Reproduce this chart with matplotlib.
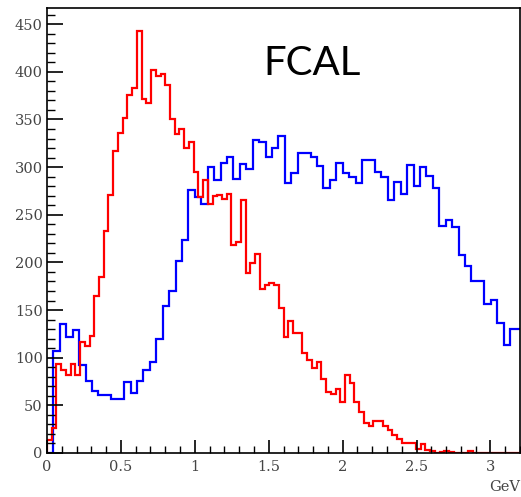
import numpy as np
import matplotlib.pyplot as plt
from matplotlib.ticker import MultipleLocator, FuncFormatter

# red histogram: 0.032 GeV bins starting at 0
red_width = 0.032
red_counts = [
    14, 26, 93, 87, 82, 93, 82, 117, 112, 123,
    165, 185, 233, 271, 317, 336, 352, 376, 383, 443,
    371, 367, 402, 396, 398, 386, 351, 335, 340, 320,
    326, 295, 269, 287, 261, 270, 271, 267, 272, 218,
    221, 266, 189, 199, 209, 172, 176, 178, 176, 152,
    122, 139, 126, 126, 105, 98, 89, 95, 78, 64,
    62, 67, 53, 82, 73, 53, 43, 32, 28, 34,
    34, 28, 24, 19, 15, 10, 10, 10, 4, 9,
    3, 2, 0, 1, 2, 1, 0, 0, 0, 2,
    0, 0, 0, 0, 0, 0, 0, 0, 0, 0,
]

# blue histogram: wider bins
blue_width = 0.0435
blue_counts = [
    0, 107, 135, 122, 129, 92, 76, 65, 61, 61,
    57, 57, 74, 63, 76, 87, 95, 120, 154, 170,
    201, 224, 276, 269, 261, 300, 287, 304, 311, 288,
    303, 298, 328, 326, 311, 320, 333, 283, 294, 315,
    315, 311, 301, 278, 286, 304, 294, 290, 283, 308,
    308, 295, 290, 265, 284, 272, 302, 280, 300, 291,
    278, 238, 245, 237, 208, 196, 180, 180, 156, 161,
    136, 113, 130, 130,
]

red_edges = np.arange(len(red_counts) + 1) * red_width
blue_edges = np.arange(len(blue_counts) + 1) * blue_width

fig = plt.figure(figsize=(5.21, 4.97), dpi=100)
ax = fig.add_axes([47 / 521, 44 / 497, 473 / 521, 445 / 497])

ax.stairs(blue_counts, blue_edges, color="blue", lw=1.6)
ax.stairs(red_counts, red_edges, color="red", lw=1.6)

ax.set_xlim(0, 3.2)
ax.set_ylim(0, 467)

ax.xaxis.set_major_locator(MultipleLocator(0.5))
ax.xaxis.set_minor_locator(MultipleLocator(0.1))
ax.yaxis.set_major_locator(MultipleLocator(50))
ax.yaxis.set_minor_locator(MultipleLocator(10))
fmt = FuncFormatter(lambda v, p: "%g" % v)
ax.xaxis.set_major_formatter(fmt)
ax.yaxis.set_major_formatter(fmt)

ax.tick_params(which="both", direction="in", top=False, right=False,
               color="black", labelcolor="#444444", labelsize=10.5)
ax.tick_params(axis="y", which="major", length=11.5, width=1.2, pad=3)
ax.tick_params(axis="y", which="minor", length=5.8, width=1.0)
ax.tick_params(axis="x", which="major", length=9.4, width=1.2, pad=5)
ax.tick_params(axis="x", which="minor", length=5, width=1.0)
for lab in ax.get_xticklabels() + ax.get_yticklabels():
    lab.set_family("DejaVu Serif")

for s in ax.spines.values():
    s.set_color("black")
    s.set_linewidth(1.2)

ax.text(0.457, 0.849, "FCAL", transform=ax.transAxes, fontsize=29,
        family="Lato", va="baseline", ha="left", color="black")
ax.text(1.0, -0.076, "GeV", transform=ax.transAxes, fontsize=10.5,
        family="DejaVu Serif", color="#444444", ha="right", va="center")

fig.savefig("out.png", dpi=100)
